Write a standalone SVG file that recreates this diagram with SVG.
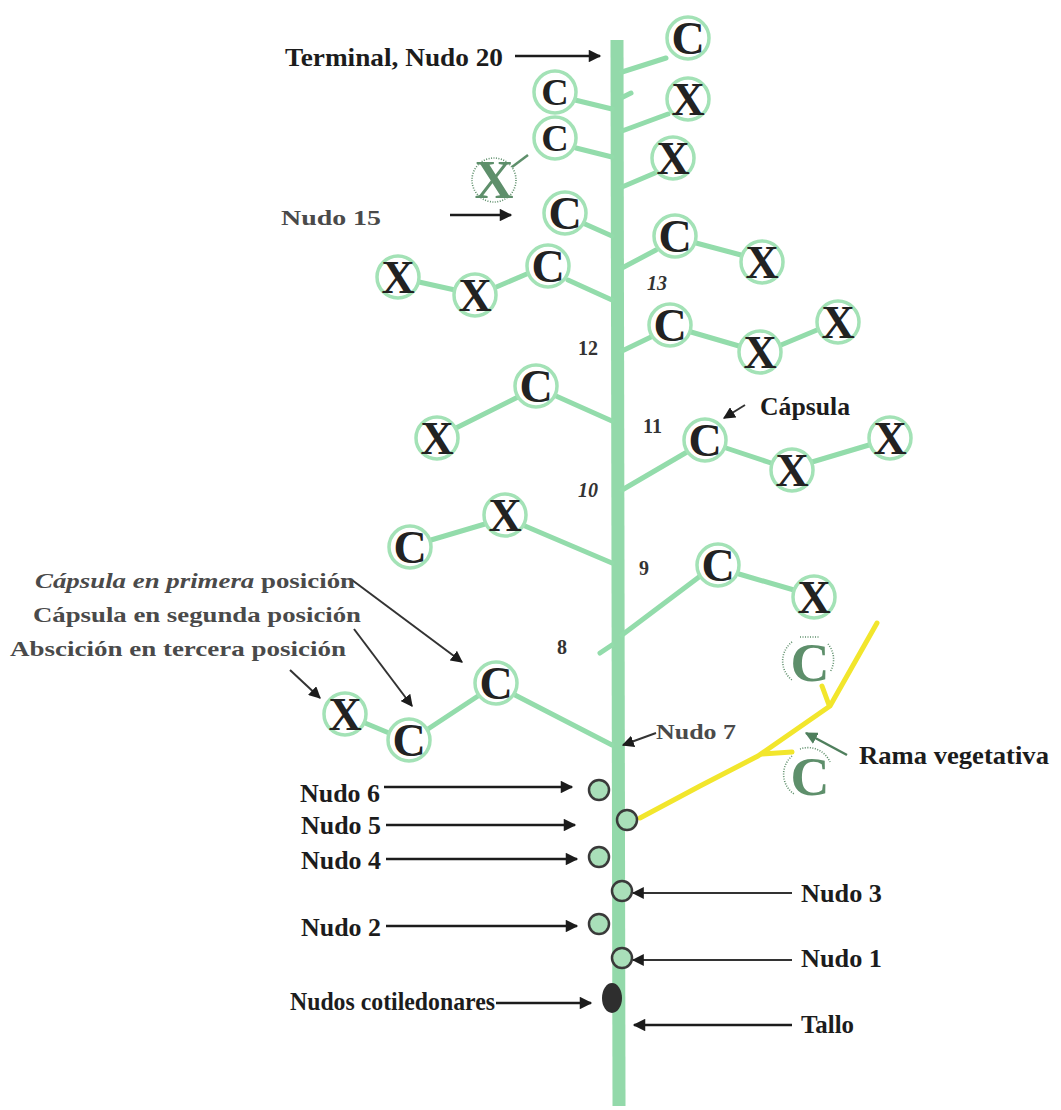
<svg xmlns="http://www.w3.org/2000/svg" width="1061" height="1110" viewBox="0 0 1061 1110">
<defs>
  <marker id="ah" viewBox="0 0 10 10" refX="9" refY="5" markerWidth="5.5" markerHeight="5" orient="auto" markerUnits="strokeWidth">
    <path d="M0,0 L10,5 L0,10 Z" fill="#1c1c1c"/>
  </marker>
  <marker id="ahg" viewBox="0 0 10 10" refX="9" refY="5" markerWidth="5" markerHeight="5" orient="auto" markerUnits="strokeWidth">
    <path d="M0,0 L10,5 L0,10 Z" fill="#4f7f5d"/>
  </marker>
  <marker id="ahs" viewBox="0 0 10 10" refX="9" refY="5" markerWidth="6" markerHeight="6" orient="auto" markerUnits="strokeWidth">
    <path d="M0,0 L10,5 L0,10 Z" fill="#1c1c1c"/>
  </marker>
</defs>
<style>
  .stem{stroke:#93d9aa;stroke-width:13;fill:none}
  .br{stroke:#93dcab;stroke-width:5;fill:none;stroke-linecap:round}
  .veg{stroke:#f2e62c;stroke-width:5;fill:none;stroke-linecap:round;stroke-linejoin:round}
  .ring{fill:#ffffff;stroke:#a3e2b6;stroke-width:3.5}
  .let{font-family:"Liberation Serif","Times New Roman",serif;font-weight:bold;font-size:46px;fill:#222;text-anchor:middle}
  .sm{font-size:38px}
  .stamp{font-family:"Liberation Serif","Times New Roman",serif;font-weight:bold;font-size:54px;fill:#5e8f6b;text-anchor:middle}
  .dots{fill:none;stroke:#5e8f6b;stroke-width:1.6;stroke-dasharray:1 1.5}
  .bud{fill:#a9dfb9;stroke:#3a3a3a;stroke-width:2.5}
  .lbl{font-family:"Liberation Serif","Times New Roman",serif;font-weight:bold;font-size:26px;fill:#1c1c1c}
  .glbl{font-family:"Liberation Serif","Times New Roman",serif;font-weight:bold;font-size:22px;fill:#4a4a4a}
  .num{font-family:"Liberation Serif","Times New Roman",serif;font-weight:bold;font-size:20px;fill:#333}
  .arr{stroke:#1c1c1c;stroke-width:2.5;fill:none;marker-end:url(#ah)}
  .arrt{stroke:#333;stroke-width:2;fill:none;marker-end:url(#ahs)}
</style>

<rect width="1061" height="1110" fill="#ffffff"/>

<!-- main stem -->
<line id="stem" class="stem" x1="617" y1="40" x2="619" y2="1106"/>

<!-- branches and pointer arrows -->
<g id="connectors">
  <!-- upper branches -->
  <line class="br" x1="666" y1="58" x2="622" y2="72"/>
  <line class="br" x1="575" y1="100" x2="612" y2="109"/>
  <line class="br" x1="623" y1="97" x2="631" y2="93"/>
  <line class="br" x1="668" y1="114" x2="622" y2="131"/>
  <line class="br" x1="576" y1="148" x2="612" y2="157"/>
  <line class="br" x1="655" y1="173" x2="622" y2="187"/>
  <line x1="512" y1="167" x2="528" y2="155" stroke="#5e8f6b" stroke-width="2.5"/>
  <line class="br" x1="585" y1="224" x2="612" y2="236"/>
  <line class="br" x1="656" y1="250" x2="622" y2="268"/>
  <line class="br" x1="696" y1="243" x2="741" y2="255"/>
  <line class="br" x1="568" y1="280" x2="612" y2="300"/>
  <line class="br" x1="529" y1="273" x2="494" y2="288"/>
  <line class="br" x1="455" y1="290" x2="419" y2="282"/>
  <line class="br" x1="651" y1="337" x2="622" y2="351"/>
  <line class="br" x1="691" y1="332" x2="739" y2="346"/>
  <line class="br" x1="781" y1="345" x2="817" y2="330"/>
  <line class="br" x1="556" y1="396" x2="612" y2="421"/>
  <line class="br" x1="518" y1="397" x2="456" y2="428"/>
  <line class="br" x1="687" y1="452" x2="622" y2="490"/>
  <line class="br" x1="726" y1="448" x2="771" y2="463"/>
  <line class="br" x1="812" y1="462" x2="869" y2="445"/>
  <line class="br" x1="525" y1="526" x2="612" y2="563"/>
  <line class="br" x1="485" y1="524" x2="431" y2="540"/>
  <line class="br" x1="699" y1="577" x2="622" y2="635"/>
  <line class="br" x1="739" y1="574" x2="794" y2="590"/>
  <line class="br" x1="600" y1="653" x2="612" y2="645"/>
  <line class="br" x1="515" y1="695" x2="612" y2="745"/>
  <line class="br" x1="478" y1="696" x2="428" y2="729"/>
  <line class="br" x1="389" y1="733" x2="365" y2="723"/>

  <!-- vegetative branch -->
  <polyline class="veg" points="640,818 700,786 758,756 830,706 877,623"/>
  <line class="veg" x1="762" y1="754" x2="792" y2="752"/>
  <line class="veg" x1="829" y1="705" x2="822" y2="686"/>

  <!-- pointer arrows -->
  <line class="arr" x1="515" y1="56" x2="600" y2="56"/>
  <line class="arr" x1="450" y1="215" x2="511" y2="215"/>
  <line class="arrt" x1="745" y1="405" x2="724" y2="418"/>
  <line class="arrt" x1="352" y1="580" x2="462" y2="662"/>
  <line class="arrt" x1="354" y1="629" x2="412" y2="706"/>
  <line class="arrt" x1="290" y1="670" x2="320" y2="698"/>
  <line class="arrt" x1="656" y1="733" x2="623" y2="745"/>
  <line x1="847" y1="755" x2="806" y2="733" stroke="#4f7f5d" stroke-width="2.5" marker-end="url(#ahg)"/>
  <line class="arr" x1="384" y1="787" x2="572" y2="787"/>
  <line class="arr" x1="386" y1="825" x2="575" y2="825"/>
  <line class="arr" x1="386" y1="859" x2="577" y2="859"/>
  <line class="arrt" x1="792" y1="893" x2="633" y2="893"/>
  <line class="arr" x1="386" y1="926" x2="577" y2="926"/>
  <line class="arrt" x1="792" y1="960" x2="633" y2="960"/>
  <line class="arr" x1="496" y1="1003" x2="591" y2="1003"/>
  <line class="arr" x1="792" y1="1025" x2="634" y2="1025"/>
</g>

<!-- capsule (C) and abscission (X) positions -->
<g id="n20c"><circle class="ring" cx="688" cy="38" r="21"/><text class="let" x="688" y="54">C</text></g>
<g id="n19c"><circle class="ring" cx="555" cy="92" r="21"/><text class="let sm" x="555" y="105">C</text></g>
<g id="n19x"><circle class="ring" cx="688" cy="99" r="21"/><text class="let" x="688" y="115">X</text></g>
<g id="n18c"><circle class="ring" cx="555" cy="138" r="21"/><text class="let sm" x="555" y="151">C</text></g>
<g id="n17x"><circle class="ring" cx="673" cy="158" r="21"/><text class="let" x="673" y="174">X</text></g>
<g id="n16x"><circle class="dots" cx="494" cy="180" r="22"/><text class="stamp" x="494" y="198" font-size="50">X</text></g>
<g id="n15c"><circle class="ring" cx="565" cy="213" r="21"/><text class="let" x="565" y="229">C</text></g>
<g id="n14c"><circle class="ring" cx="675" cy="236" r="21"/><text class="let" x="675" y="252">C</text></g>
<g id="n14x"><circle class="ring" cx="762" cy="262" r="21"/><text class="let" x="762" y="278">X</text></g>
<g id="n13c"><circle class="ring" cx="548" cy="266" r="21"/><text class="let" x="548" y="282">C</text></g>
<g id="n13x1"><circle class="ring" cx="475" cy="295" r="21"/><text class="let" x="475" y="311">X</text></g>
<g id="n13x2"><circle class="ring" cx="398" cy="277" r="21"/><text class="let" x="398" y="293">X</text></g>
<g id="n12c"><circle class="ring" cx="670" cy="325" r="21"/><text class="let" x="670" y="341">C</text></g>
<g id="n12x1"><circle class="ring" cx="760" cy="352" r="21"/><text class="let" x="760" y="368">X</text></g>
<g id="n12x2"><circle class="ring" cx="838" cy="322" r="21"/><text class="let" x="838" y="338">X</text></g>
<g id="n11c"><circle class="ring" cx="536" cy="386" r="21"/><text class="let" x="536" y="402">C</text></g>
<g id="n11x"><circle class="ring" cx="437" cy="438" r="21"/><text class="let" x="437" y="454">X</text></g>
<g id="n10c"><circle class="ring" cx="705" cy="440" r="21"/><text class="let" x="705" y="456">C</text></g>
<g id="n10x1"><circle class="ring" cx="792" cy="470" r="21"/><text class="let" x="792" y="486">X</text></g>
<g id="n10x2"><circle class="ring" cx="890" cy="438" r="21"/><text class="let" x="890" y="454">X</text></g>
<g id="n9x"><circle class="ring" cx="505" cy="515" r="21"/><text class="let" x="505" y="531">X</text></g>
<g id="n9c"><circle class="ring" cx="410" cy="547" r="21"/><text class="let" x="410" y="563">C</text></g>
<g id="n8c"><circle class="ring" cx="718" cy="565" r="21"/><text class="let" x="718" y="581">C</text></g>
<g id="n8x"><circle class="ring" cx="814" cy="597" r="21"/><text class="let" x="814" y="613">X</text></g>
<g id="n7c1"><circle class="ring" cx="496" cy="683" r="21"/><text class="let" x="496" y="699">C</text></g>
<g id="n7c2"><circle class="ring" cx="409" cy="740" r="21"/><text class="let" x="409" y="756">C</text></g>
<g id="n7x"><circle class="ring" cx="345" cy="714" r="21"/><text class="let" x="345" y="730">X</text></g>

<!-- capsules on the vegetative branch -->
<g id="vegc1"><path class="dots" d="M792,642 A24,24 0 0 0 792,680 M800,637 L820,637 M828,644 A24,24 0 0 1 830,672"/><text class="stamp" x="810" y="681">C</text></g>
<g id="vegc2"><path class="dots" d="M792,756 A24,24 0 0 0 794,794 M800,749 A24,24 0 0 1 830,762"/><text class="stamp" x="810" y="795">C</text></g>

<!-- vegetative nodes 1-6 and cotyledons -->
<g id="nudo6"><circle class="bud" cx="599" cy="790" r="10"/></g>
<g id="nudo5"><circle class="bud" cx="627" cy="820" r="10"/></g>
<g id="nudo4"><circle class="bud" cx="599" cy="857" r="10"/></g>
<g id="nudo3"><circle class="bud" cx="622" cy="891" r="10"/></g>
<g id="nudo2"><circle class="bud" cx="599" cy="924" r="10"/></g>
<g id="nudo1"><circle class="bud" cx="622" cy="958" r="10"/></g>
<g id="cotiledones"><ellipse cx="612" cy="998" rx="10" ry="15" fill="#2e2e2e"/></g>

<!-- labels -->
<g id="labels">
  <text class="lbl" x="285" y="66" textLength="218" lengthAdjust="spacingAndGlyphs">Terminal, Nudo 20</text>
  <text class="glbl" x="281" y="225" textLength="100" lengthAdjust="spacingAndGlyphs">Nudo 15</text>
  <text class="num" x="647" y="290" font-style="italic">13</text>
  <text class="num" x="578" y="355">12</text>
  <text class="num" x="643" y="433">11</text>
  <text class="lbl" x="760" y="415" font-size="24" textLength="90" lengthAdjust="spacingAndGlyphs">Cápsula</text>
  <text class="num" x="578" y="497" font-style="italic">10</text>
  <text class="num" x="639" y="575">9</text>
  <text class="num" x="557" y="654">8</text>
  <text class="glbl" x="35" y="588" textLength="320" lengthAdjust="spacingAndGlyphs"><tspan font-style="italic">Cápsula en primera</tspan> posición</text>
  <text class="glbl" x="33" y="622" textLength="328" lengthAdjust="spacingAndGlyphs">Cápsula en segunda posición</text>
  <text class="glbl" x="10" y="656" textLength="336" lengthAdjust="spacingAndGlyphs">Abscición en  tercera posición</text>
  <text class="glbl" x="656" y="739" font-size="20" textLength="80" lengthAdjust="spacingAndGlyphs">Nudo 7</text>
  <text class="lbl" x="859" y="764" font-size="25" textLength="190" lengthAdjust="spacingAndGlyphs">Rama vegetativa</text>
  <text class="lbl" x="300" y="802" textLength="80" lengthAdjust="spacingAndGlyphs">Nudo 6</text>
  <text class="lbl" x="301" y="834" textLength="80" lengthAdjust="spacingAndGlyphs">Nudo 5</text>
  <text class="lbl" x="301" y="869" textLength="80" lengthAdjust="spacingAndGlyphs">Nudo 4</text>
  <text class="lbl" x="801" y="902" textLength="81" lengthAdjust="spacingAndGlyphs">Nudo 3</text>
  <text class="lbl" x="301" y="936" textLength="80" lengthAdjust="spacingAndGlyphs">Nudo 2</text>
  <text class="lbl" x="801" y="967" textLength="81" lengthAdjust="spacingAndGlyphs">Nudo 1</text>
  <text class="lbl" x="290" y="1010" font-size="23" textLength="205" lengthAdjust="spacingAndGlyphs">Nudos cotiledonares</text>
  <text class="lbl" x="801" y="1033" textLength="53" lengthAdjust="spacingAndGlyphs">Tallo</text>
</g>
</svg>
